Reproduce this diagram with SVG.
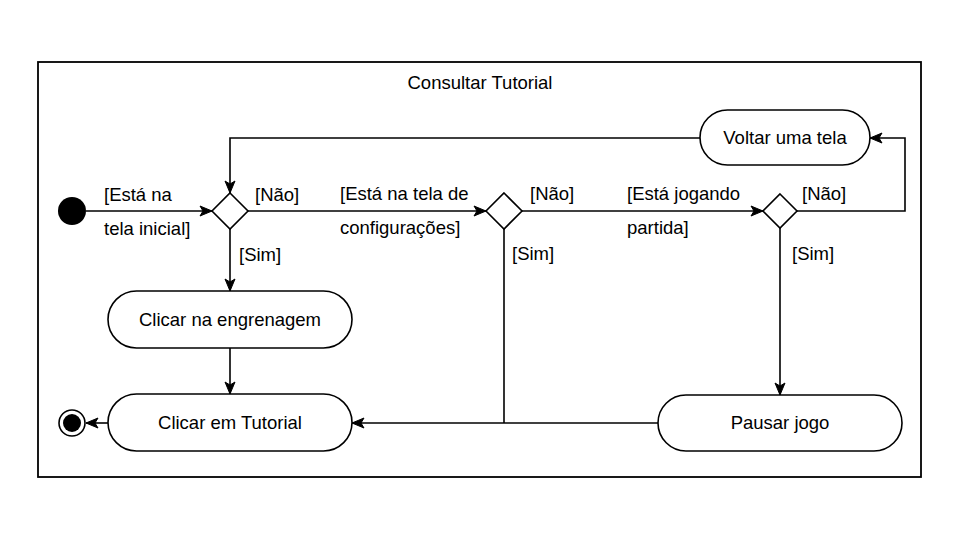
<svg xmlns="http://www.w3.org/2000/svg" width="960" height="540" viewBox="0 0 960 540">
<style>
  text { font-family: "Liberation Sans", Arial, sans-serif; font-size: 18.5px; fill: #000; }
  .c { text-anchor: middle; }
  .shape { fill: #fff; stroke: #000; stroke-width: 1.6; }
  .edge { fill: none; stroke: #000; stroke-width: 1.6; }
</style>
<defs>
  <marker id="arr" markerWidth="14" markerHeight="12" refX="13" refY="6" orient="auto" markerUnits="userSpaceOnUse">
    <path d="M1,1 L13,6 L1,11 L4,6 Z" fill="#000" stroke="#000" stroke-width="1" stroke-linejoin="miter"/>
  </marker>
</defs>
<rect width="960" height="540" fill="#fff"/>
<g id="frame">
  <rect x="38" y="62" width="883" height="415" fill="none" stroke="#000" stroke-width="1.8"/>
  <text class="c" x="480" y="89">Consultar Tutorial</text>
</g>
<g id="connectors">
  <line class="edge" x1="86" y1="211" x2="212" y2="211" marker-end="url(#arr)"/>
  <line class="edge" x1="248" y1="211" x2="486" y2="211" marker-end="url(#arr)"/>
  <line class="edge" x1="522" y1="211" x2="763" y2="211" marker-end="url(#arr)"/>
  <line class="edge" x1="230" y1="229" x2="230" y2="291" marker-end="url(#arr)"/>
  <line class="edge" x1="230" y1="348" x2="230" y2="394" marker-end="url(#arr)"/>
  <polyline class="edge" points="700,138 230,138 230,193" marker-end="url(#arr)"/>
  <polyline class="edge" points="797,211 905,211 905,138 870,138" marker-end="url(#arr)"/>
  <line class="edge" x1="780" y1="228" x2="780" y2="395" marker-end="url(#arr)"/>
  <line class="edge" x1="504" y1="229" x2="504" y2="423"/>
  <line class="edge" x1="658" y1="423" x2="352" y2="423" marker-end="url(#arr)"/>
  <line class="edge" x1="108" y1="423" x2="86" y2="423" marker-end="url(#arr)"/>
  <text x="104" y="201">[Está na</text>
  <text x="104" y="235">tela inicial]</text>
  <text x="255" y="201">[Não]</text>
  <text x="239" y="261">[Sim]</text>
  <text x="340" y="200">[Está na tela de</text>
  <text x="340" y="234">configurações]</text>
  <text x="530" y="200">[Não]</text>
  <text x="512" y="260">[Sim]</text>
  <text x="627" y="200">[Está jogando</text>
  <text x="627" y="234">partida]</text>
  <text x="802" y="200">[Não]</text>
  <text x="792" y="260">[Sim]</text>
</g>
<g id="start">
  <circle cx="72" cy="211" r="14" fill="#000"/>
</g>
<g id="decision1">
  <polygon class="shape" points="230,193 248,211 230,229 212,211"/>
</g>
<g id="decision2">
  <polygon class="shape" points="504,193 522,211 504,229 486,211"/>
</g>
<g id="decision3">
  <polygon class="shape" points="780,194 797,211 780,228 763,211"/>
</g>
<g id="voltar">
  <rect class="shape" x="700" y="110" width="170" height="55" rx="27.5"/>
  <text class="c" x="785" y="144">Voltar uma tela</text>
</g>
<g id="engrenagem">
  <rect class="shape" x="108" y="291" width="244" height="57" rx="28.5"/>
  <text class="c" x="230" y="326">Clicar na engrenagem</text>
</g>
<g id="tutorial">
  <rect class="shape" x="108" y="394" width="244" height="57" rx="28.5"/>
  <text class="c" x="230" y="429">Clicar em Tutorial</text>
</g>
<g id="pausar">
  <rect class="shape" x="658" y="395" width="244" height="56" rx="28"/>
  <text class="c" x="780" y="429">Pausar jogo</text>
</g>
<g id="end">
  <circle cx="72" cy="423" r="13" fill="#fff" stroke="#000" stroke-width="1.6"/>
  <circle cx="72" cy="423" r="9" fill="#000"/>
</g>
</svg>
